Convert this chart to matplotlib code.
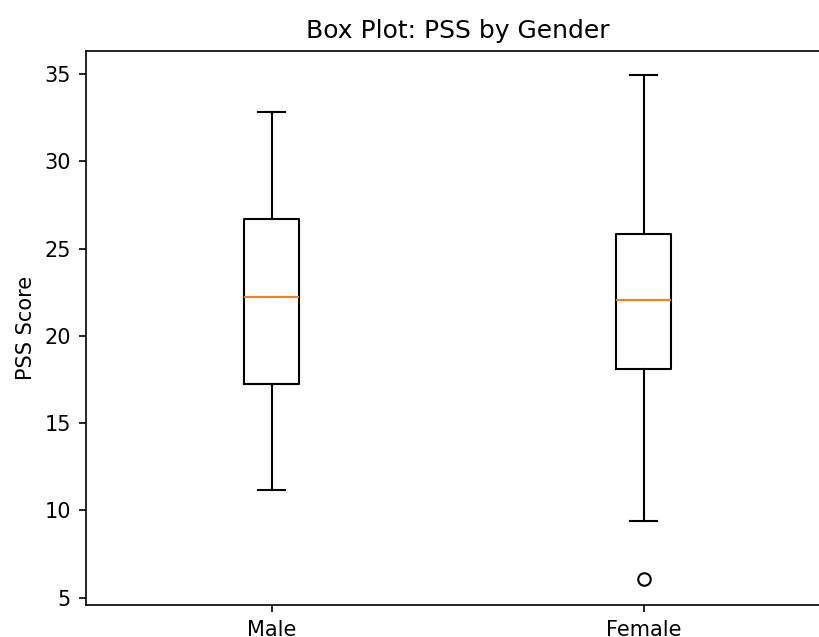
import matplotlib
matplotlib.use("Agg")
import matplotlib.pyplot as plt

groups = ["Male", "Female"]
whislo = [11.15, 9.42]
q1 = [17.25, 18.1]
med = [22.2, 22.06]
q3 = [26.7, 25.84]
whishi = [32.8, 34.95]
fliers = [[], [6.05]]

stats = []
for i, g in enumerate(groups):
    stats.append(dict(label=g, whislo=whislo[i], q1=q1[i], med=med[i],
                      q3=q3[i], whishi=whishi[i], fliers=fliers[i]))

W, H = 819, 637
fig = plt.figure(figsize=(W/150, H/150), dpi=150)
ax = fig.add_axes([85.5/W, 1-605/H, 744/W, 554.3/H])
ax.bxp(stats, widths=0.15)
ax.set_xlim(0.5, 2.5)
ax.set_ylim(4.58, 36.33)
ax.set_title("Box Plot: PSS by Gender")
ax.set_ylabel("PSS Score")
fig.savefig("out.png", dpi=150)
